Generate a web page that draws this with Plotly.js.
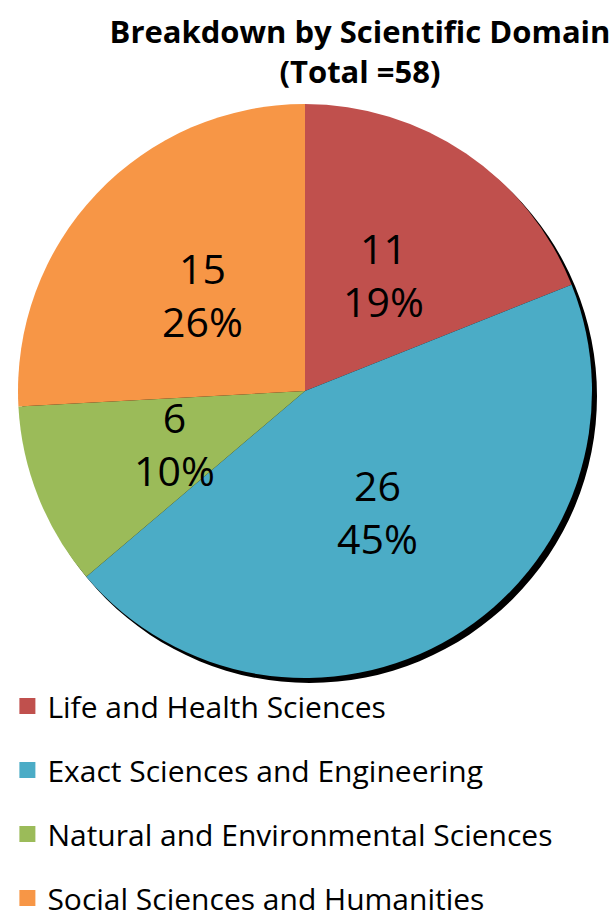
<!DOCTYPE html>
<html>
<head>
<meta charset="utf-8">
<script src="https://cdn.plot.ly/plotly-3.0.1.min.js"></script>
<style>html,body{margin:0;padding:0;background:#fff;}#chart{width:616px;height:912px;}</style>
</head>
<body>
<div id="chart"></div>
<script>
const categories = ["Life and Health Sciences", "Exact Sciences and Engineering", "Natural and Environmental Sciences", "Social Sciences and Humanities"];
const counts = [11, 26, 6, 15];
const colors = ["#C0504D", "#4BACC6", "#9BBB59", "#F79646"];
const titleText = "Breakdown by Scientific Domain<br>(Total =58)";

const FONT = "'Open Sans', Lato, sans-serif";
const W = 616, H = 912;
// pie domain in pixels
const PX0 = 18, PX1 = 592, PY0 = 104, PY1 = 678;
const cxPx = (PX0 + PX1) / 2, cyPx = (PY0 + PY1) / 2, rPx = (PX1 - PX0) / 2;

const total = counts.reduce((a, b) => a + b, 0);

const pieTrace = {
  type: "pie",
  labels: categories,
  values: counts,
  sort: false,
  direction: "clockwise",
  rotation: 0,
  marker: {colors: colors, line: {width: 0}},
  textinfo: "none",
  hoverinfo: "label+value+percent",
  showlegend: false,
  domain: {x: [PX0 / W, PX1 / W], y: [1 - PY1 / H, 1 - PY0 / H]}
};

// slice labels placed at half radius along each slice's mid-angle (computed from the data)
const sliceLabels = [];
let cum = 0;
counts.forEach((v, i) => {
  const mid = (cum + v / 2) / total * 2 * Math.PI;
  cum += v;
  const rr = 0.49 * rPx;
  const xPx = cxPx + rr * Math.sin(mid);
  const yPx = cyPx - rr * Math.cos(mid);
  sliceLabels.push({
    xref: "paper", yref: "paper",
    x: xPx / W, y: 1 - yPx / H,
    xanchor: "center", yanchor: "middle",
    showarrow: false,
    text: v + "<br>" + Math.round(v / total * 100) + "%",
    font: {family: FONT, size: 41, color: "#000"}
  });
});

const legendTraces = categories.map((c, i) => ({
  type: "scatter",
  mode: "markers",
  x: [null], y: [null],
  name: c,
  legendgroup: "g" + i,
  marker: {symbol: "square", size: 16, color: colors[i]},
  showlegend: true,
  hoverinfo: "skip"
}));

const layout = {
  width: W, height: H,
  margin: {l: 0, r: 0, t: 0, b: 0, autoexpand: false},
  paper_bgcolor: "#fff",
  plot_bgcolor: "#fff",
  font: {family: FONT, color: "#000"},
  title: {
    text: titleText,
    font: {family: FONT, size: 31, weight: "bold", color: "#000"},
    x: 360 / W, xanchor: "center", xref: "paper",
    y: 1 - 43 / H, yanchor: "top", yref: "container"
  },
  xaxis: {visible: false, domain: [0, 1]},
  yaxis: {visible: false, domain: [0, 1]},
  showlegend: true,
  legend: {
    x: 0.012, y: 1 - 680 / H, xanchor: "left", yanchor: "top",
    orientation: "v",
    font: {family: FONT, size: 30, color: "#000"},
    tracegroupgap: 22,
    itemclick: false, itemdoubleclick: false,
    bgcolor: "rgba(0,0,0,0)"
  },
  annotations: sliceLabels,
  shapes: [{
    type: "circle", layer: "below", xref: "paper", yref: "paper",
    x0: (PX0 + 4) / W, x1: (PX1 + 5) / W, y0: 1 - (PY1 + 5) / H, y1: 1 - (PY0 + 5) / H,
    fillcolor: "#000", line: {width: 0}
  }]
};

Plotly.newPlot("chart", [pieTrace].concat(legendTraces), layout, {displayModeBar: false, staticPlot: true});
</script>
</body>
</html>
